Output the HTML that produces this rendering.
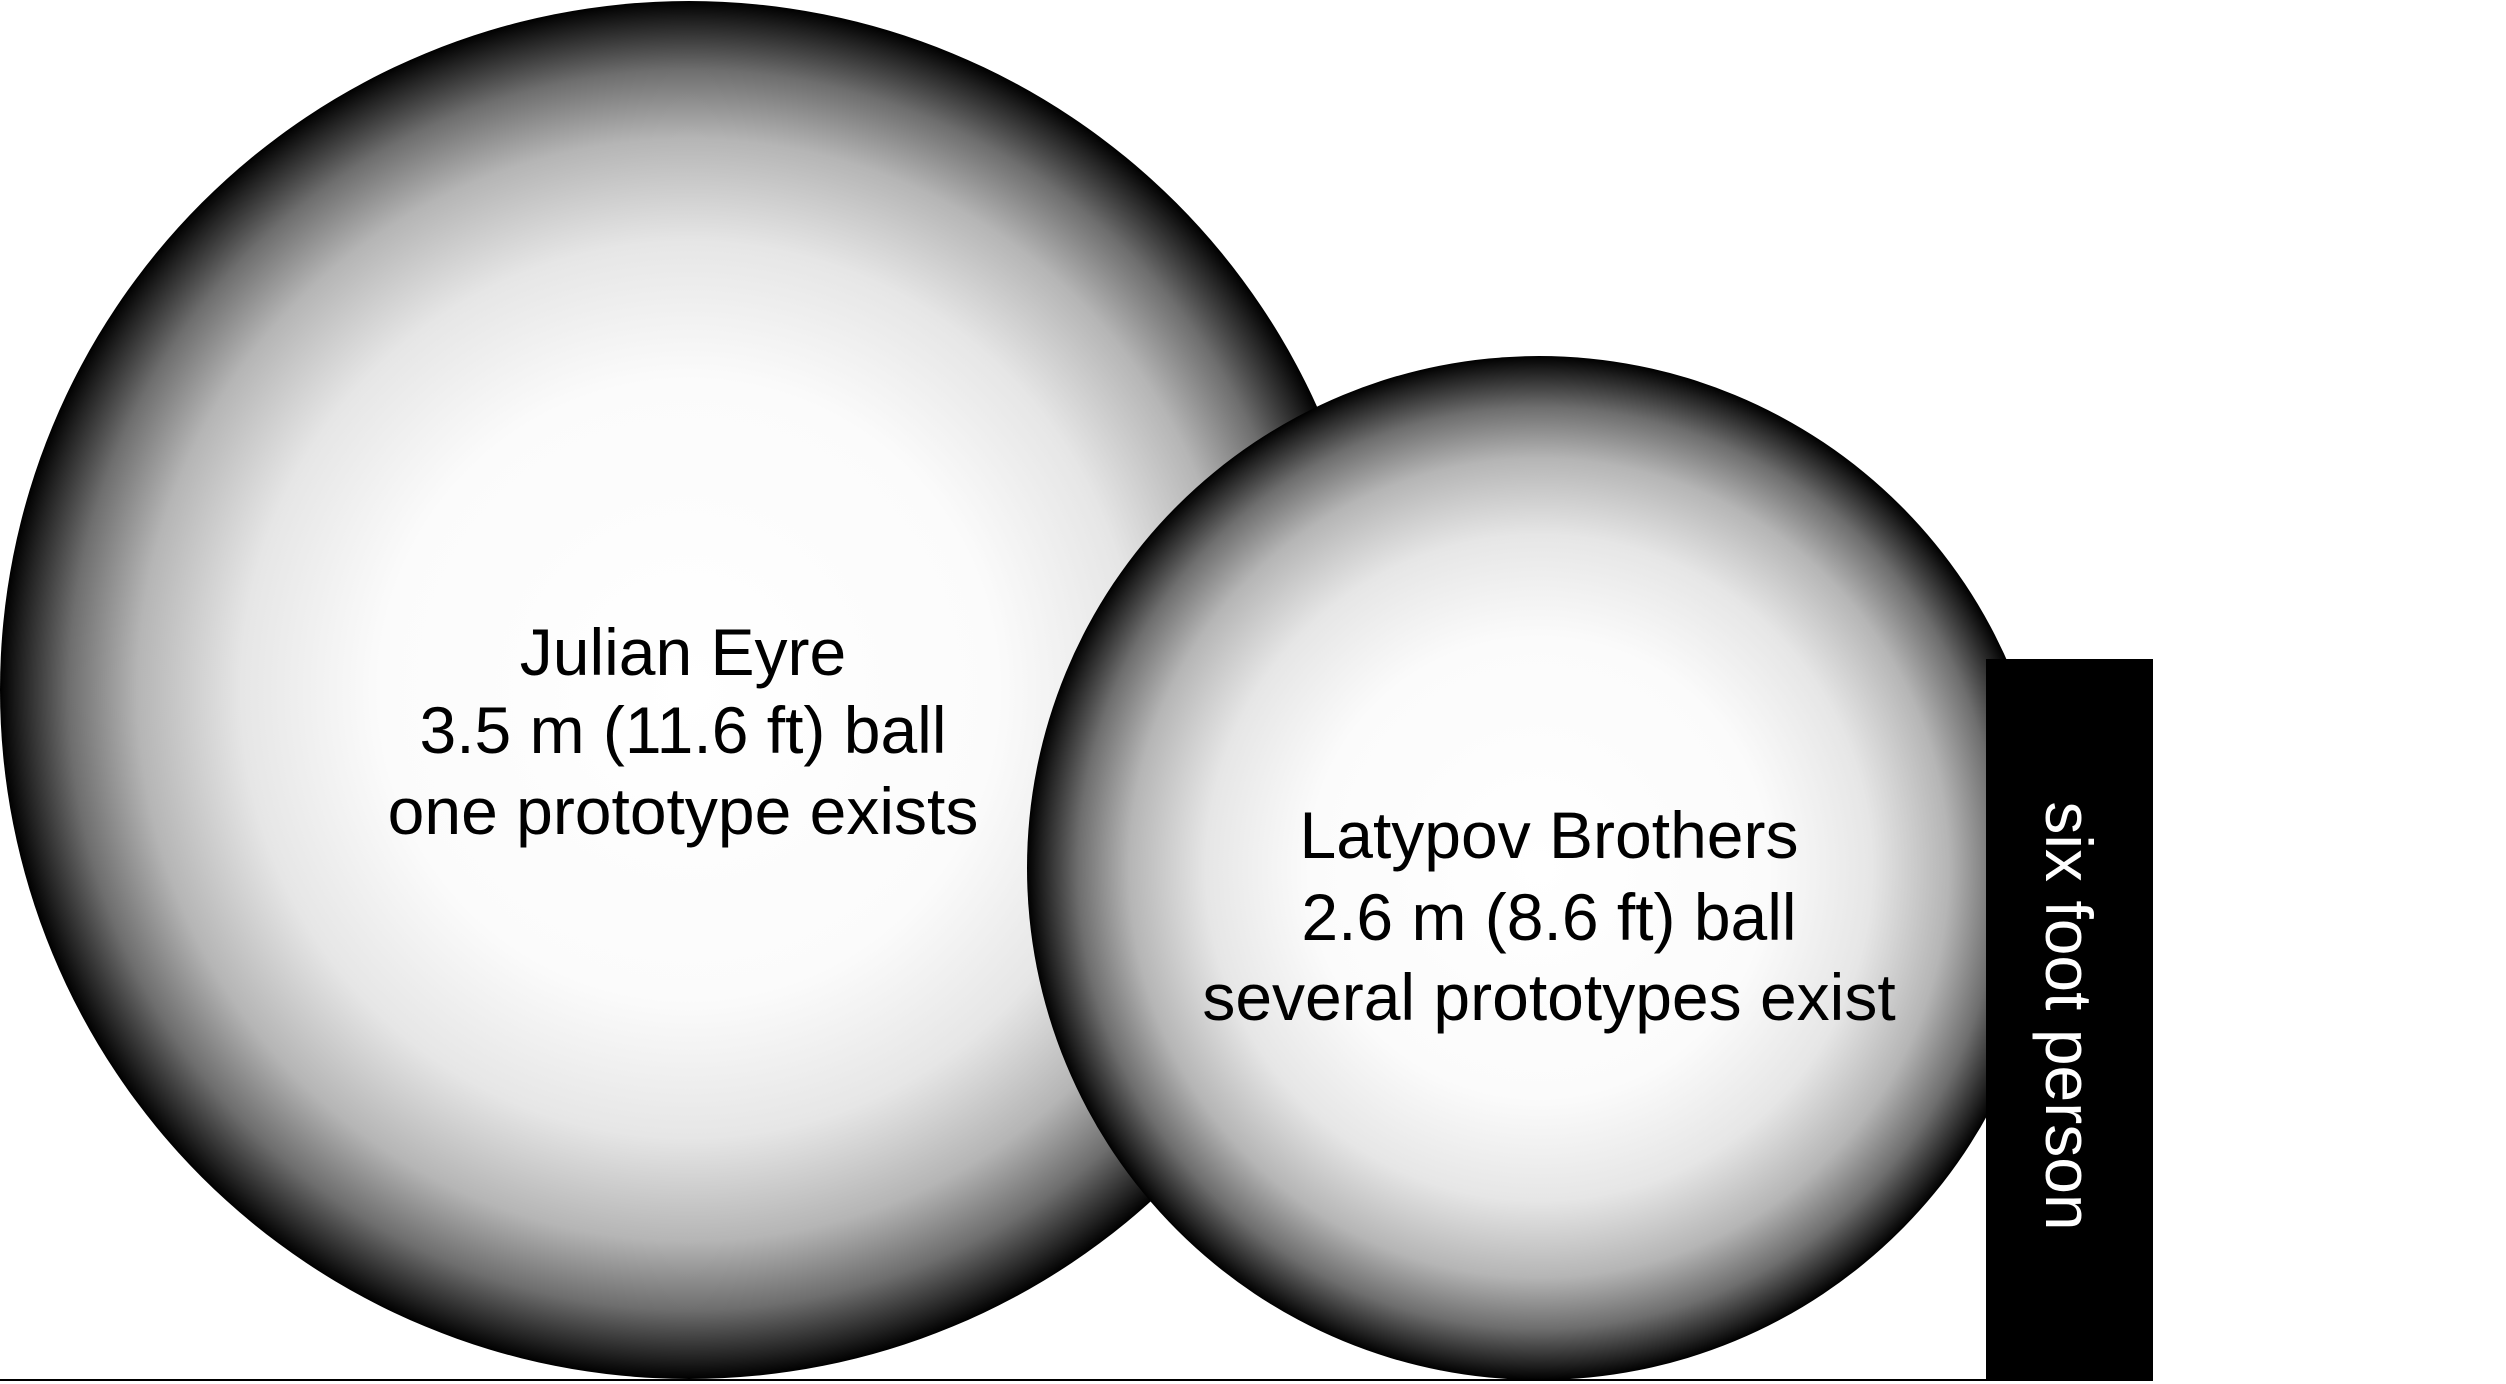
<!DOCTYPE html>
<html><head><meta charset="utf-8"><style>
html,body{margin:0;padding:0;background:#fff;}
body{width:2506px;height:1384px;overflow:hidden;position:relative;}
svg{position:absolute;left:0;top:0;}
</style></head><body>
<svg width="2506" height="1384" viewBox="0 0 2506 1384">
<defs>
<radialGradient id="g" cx="50%" cy="50%" r="50%">
<stop offset="0" stop-color="#fff"/>
<stop offset="0.45" stop-color="#fbfbfb"/>
<stop offset="0.65" stop-color="#e6e6e6"/>
<stop offset="0.8" stop-color="#b5b5b5"/>
<stop offset="0.9" stop-color="#6e6e6e"/>
<stop offset="0.97" stop-color="#222"/>
<stop offset="1" stop-color="#000"/>
</radialGradient>
</defs>
<circle cx="689" cy="690" r="689" fill="url(#g)"/>
<circle cx="1539" cy="868" r="512" fill="url(#g)"/>
<rect x="1986" y="659" width="167" height="721" fill="#000"/>
<line x1="0" y1="1380" x2="2153" y2="1380" stroke="#000" stroke-width="2"/>
<g font-family="Liberation Sans, Arial, sans-serif" font-size="66" text-anchor="middle" fill="#000">
<text x="683" y="675">Julian Eyre</text>
<text x="683" y="753">3.5 m (11.6 ft) ball</text>
<text x="683" y="834">one prototype exists</text>
<text x="1549" y="858">Latypov Brothers</text>
<text x="1549" y="940">2.6 m (8.6 ft) ball</text>
<text x="1549" y="1020">several prototypes exist</text>
<text x="0" y="0" fill="#fff" transform="translate(2046,1016) rotate(90)">six foot person</text>
</g>
</svg>
</body></html>
